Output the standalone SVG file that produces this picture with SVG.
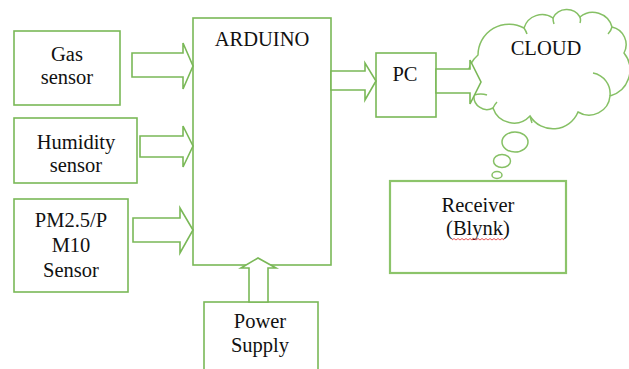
<svg xmlns="http://www.w3.org/2000/svg" width="629" height="369" viewBox="0 0 629 369" font-family="'Liberation Serif', 'Times New Roman', serif">
<style>
.box{fill:#fff;stroke:#7ab857;stroke-width:1.6}
.arr{fill:#fff;stroke:#7ab857;stroke-width:1.6;stroke-linejoin:miter}
.cl{fill:#fff;stroke:#86c065;stroke-width:1.5}
.fold{fill:none;stroke:#86c065;stroke-width:1.5}
text{font-family:'Liberation Serif','Times New Roman',serif;font-size:20.5px;fill:#111;text-anchor:middle}
</style>
<rect width="629" height="369" fill="#fff"/>
<g id="gas"><rect class="box" x="14" y="31" width="106" height="74"/><text x="67" y="61">Gas</text><text x="67" y="84">sensor</text></g>
<g id="humidity"><rect class="box" x="14" y="118" width="123" height="65"/><text x="76" y="149">Humidity</text><text x="76" y="172">sensor</text></g>
<g id="pm"><rect class="box" x="14" y="199" width="114" height="93"/><text x="71" y="227">PM2.5/P</text><text x="71" y="252">M10</text><text x="71" y="277">Sensor</text></g>
<g id="arduino"><rect class="box" x="193" y="18" width="138" height="247"/><text x="262" y="46">ARDUINO</text></g>
<g id="power"><rect class="box" x="204" y="302" width="114" height="90"/><text x="260" y="328">Power</text><text x="260" y="352">Supply</text></g>
<g id="pc"><rect class="box" x="376" y="53" width="60" height="64"/><text x="405" y="81">PC</text></g>
<g id="cloud">
<path class="cl" d="M474 95 A29 29 0 0 1 478 55 A31 31 0 0 1 524 28 A19 19 0 0 1 553 18 A15.5 15.5 0 0 1 580 17 A20 20 0 0 1 612 27 A18 18 0 0 1 624 53 A27 27 0 0 1 610 96 A21 21 0 0 1 578 112 A27 27 0 0 1 530 116 A22 22 0 0 1 493 108 A13 13 0 0 1 474 95 Z"/>
<path class="fold" d="M474 95 Q481 93 487 95 M524 28 Q526 31 527 34 M553 18 Q553 21 554 24 M580 17 Q581 20 580 23 M612 27 Q611 31 608 34 M593 73 A21 21 0 0 1 610 96 M530 116 Q531 120 532 123 M493 108 Q495 104 497 102"/>
<text x="546" y="55">CLOUD</text>
<ellipse class="cl" cx="515" cy="142" rx="13" ry="10"/>
<ellipse class="cl" cx="502" cy="161" rx="8.5" ry="6.5"/>
<ellipse class="cl" cx="497" cy="175" rx="5" ry="3.5"/>
</g>
<g id="receiver"><rect class="box" x="390" y="181" width="176" height="92" style="stroke:#8cc46a;stroke-width:2.2"/><text x="478" y="212">Receiver</text><text x="478" y="235">(Blynk)</text>
<path d="M452 240 l2 -1.5 l2 1.5 l2 -1.5 l2 1.5 l2 -1.5 l2 1.5 l2 -1.5 l2 1.5 l2 -1.5 l2 1.5 l2 -1.5 l2 1.5 l2 -1.5 l2 1.5 l2 -1.5 l2 1.5 l2 -1.5 l2 1.5 l2 -1.5 l2 1.5 l2 -1.5 l2 1.5 l2 -1.5 l2 1.5 l2 -1.5 l2 1.5" fill="none" stroke="#e03030" stroke-width="0.8"/></g>
<g id="connectors">
<polygon class="arr" points="132,53 183,53 183,43 193,66 183,89 183,77 132,77"/>
<polygon class="arr" points="140,136 183,136 183,126 193,146 183,167 183,157 140,157"/>
<polygon class="arr" points="133,218 180,218 180,208 193,230 180,253 180,242 133,242"/>
<polygon class="arr" points="331,71 365,71 365,63 376,81 365,100 365,90 331,90"/>
<polygon class="arr" points="436,69 470,69 470,60 481,82 470,104 470,93 436,93"/>
<polygon class="arr" points="249,302 249,268 241,268 258,258 276,268 268,268 268,302"/>
</g>
</svg>
